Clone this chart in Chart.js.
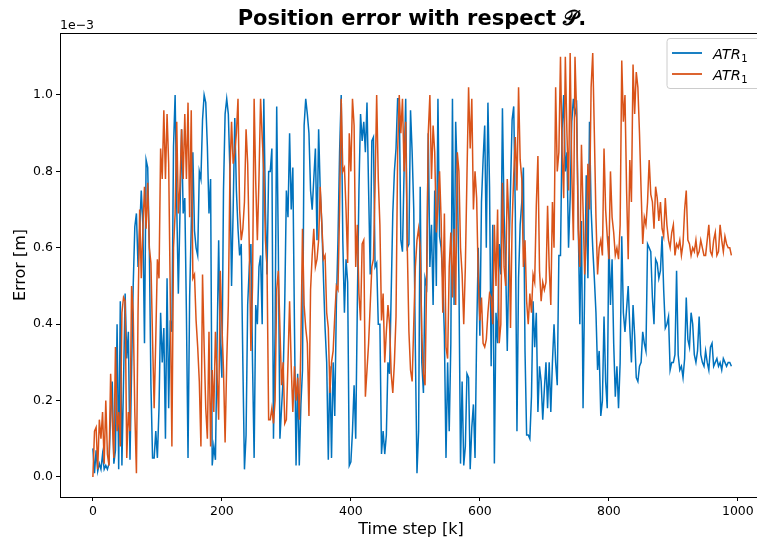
<!DOCTYPE html>
<html><head><meta charset="utf-8">
<script src="https://cdn.jsdelivr.net/npm/chart.js@4/dist/chart.umd.min.js"></script>
<style>
html,body{margin:0;padding:0;background:#fff;overflow:hidden;width:757px;height:541px}
#wrap{position:absolute;left:0;top:0;width:770px;height:541px}
</style>
</head><body><div id="wrap"><canvas id="c" width="770" height="541"></canvas></div>
<script>
// Time steps [k] (sampled every 2.5 steps)
const timeSteps = [
0,2.5,5,7.5,10,12.5,15,17.5,20,22.5, 25,27.5,30,32.5,35,37.5,40,42.5,45,47.5,
50,52.5,55,57.5,60,62.5,65,67.5,70,72.5, 75,77.5,80,82.5,85,87.5,90,92.5,95,97.5,
100,102.5,105,107.5,110,112.5,115,117.5,120,122.5, 125,127.5,130,132.5,135,137.5,140,142.5,145,147.5,
150,152.5,155,157.5,160,162.5,165,167.5,170,172.5, 175,177.5,180,182.5,185,187.5,190,192.5,195,197.5,
200,202.5,205,207.5,210,212.5,215,217.5,220,222.5, 225,227.5,230,232.5,235,237.5,240,242.5,245,247.5,
250,252.5,255,257.5,260,262.5,265,267.5,270,272.5, 275,277.5,280,282.5,285,287.5,290,292.5,295,297.5,
300,302.5,305,307.5,310,312.5,315,317.5,320,322.5, 325,327.5,330,332.5,335,337.5,340,342.5,345,347.5,
350,352.5,355,357.5,360,362.5,365,367.5,370,372.5, 375,377.5,380,382.5,385,387.5,390,392.5,395,397.5,
400,402.5,405,407.5,410,412.5,415,417.5,420,422.5, 425,427.5,430,432.5,435,437.5,440,442.5,445,447.5,
450,452.5,455,457.5,460,462.5,465,467.5,470,472.5, 475,477.5,480,482.5,485,487.5,490,492.5,495,497.5,
500,502.5,505,507.5,510,512.5,515,517.5,520,522.5, 525,527.5,530,532.5,535,537.5,540,542.5,545,547.5,
550,552.5,555,557.5,560,562.5,565,567.5,570,572.5, 575,577.5,580,582.5,585,587.5,590,592.5,595,597.5,
600,602.5,605,607.5,610,612.5,615,617.5,620,622.5, 625,627.5,630,632.5,635,637.5,640,642.5,645,647.5,
650,652.5,655,657.5,660,662.5,665,667.5,670,672.5, 675,677.5,680,682.5,685,687.5,690,692.5,695,697.5,
700,702.5,705,707.5,710,712.5,715,717.5,720,722.5, 725,727.5,730,732.5,735,737.5,740,742.5,745,747.5,
750,752.5,755,757.5,760,762.5,765,767.5,770,772.5, 775,777.5,780,782.5,785,787.5,790,792.5,795,797.5,
800,802.5,805,807.5,810,812.5,815,817.5,820,822.5, 825,827.5,830,832.5,835,837.5,840,842.5,845,847.5,
850,852.5,855,857.5,860,862.5,865,867.5,870,872.5, 875,877.5,880,882.5,885,887.5,890,892.5,895,897.5,
900,902.5,905,907.5,910,912.5,915,917.5,920,922.5, 925,927.5,930,932.5,935,937.5,940,942.5,945,947.5,
950,952.5,955,957.5,960,962.5,965,967.5,970,972.5, 975,977.5,980,982.5,985,987.5,990];

// Position error, units of 1e-3 m — first (blue) ATR_1 series
const errorBlue = [
0.075,0.01,0.07,0.015,0.035,0.02,0.06,0.02,0.03,0.02, 0.035,0.17,0.25,0.035,0.07,0.40,0.02,0.46,0.03,0.25,
0.48,0.31,0.38,0.045,0.28,0.50,0.655,0.69,0.55,0.645, 0.75,0.66,0.35,0.83,0.81,0.60,0.24,0.05,0.05,0.12,
0.05,0.18,0.43,0.30,0.39,0.10,0.52,0.18,0.41,0.38, 0.865,1.0,0.71,0.48,0.69,0.91,0.69,0.73,0.43,0.05,
0.47,0.655,0.85,0.645,0.60,0.58,0.80,0.78,0.935,1.0, 0.98,0.865,0.69,0.78,0.03,0.08,0.045,0.34,0.62,0.35,
0.26,0.75,0.95,0.99,0.95,0.80,0.50,0.70,0.94,0.75, 0.65,0.58,0.61,0.30,0.02,0.11,0.45,0.55,0.61,0.30,
0.05,0.45,0.40,0.55,0.58,0.40,0.99,0.70,0.53,0.80, 0.80,0.86,0.10,0.38,0.97,0.60,0.10,0.18,0.26,0.46,
0.75,0.68,0.90,0.70,0.81,0.40,0.03,0.27,0.03,0.19, 0.28,0.92,0.99,0.95,0.90,0.75,0.70,0.78,0.86,0.62,
0.91,0.75,0.66,0.52,0.39,0.30,0.045,0.29,0.05,0.30, 0.16,0.45,0.62,0.85,1.0,0.62,0.43,0.57,0.51,0.03,
0.04,0.12,0.24,0.10,0.45,0.75,0.95,0.88,0.93,0.85, 0.98,0.75,0.53,0.88,0.89,0.55,0.56,0.40,0.40,0.06,
0.12,0.06,0.11,0.30,0.27,0.48,0.69,0.80,0.86,0.99, 0.99,0.62,0.59,0.80,0.99,0.60,0.61,0.96,0.85,0.70,
0.33,0.01,0.12,0.76,0.30,0.22,0.52,0.50,0.90,0.55, 0.66,0.45,0.75,0.50,0.99,0.63,0.60,0.52,0.37,0.05,
0.30,0.12,0.35,0.99,0.45,0.93,0.78,0.52,0.035,0.25, 0.03,0.08,0.27,0.26,0.02,0.13,0.19,0.05,0.37,0.60,
0.37,0.72,0.83,0.92,0.60,0.98,0.76,0.29,0.66,0.035, 0.43,0.35,0.61,0.53,0.965,0.69,0.55,0.33,0.57,0.75,
0.935,0.97,0.69,0.12,0.52,0.66,0.72,0.81,0.33,0.11, 0.11,0.10,0.21,0.46,0.34,0.43,0.17,0.29,0.25,0.15,
0.23,0.30,0.18,0.30,0.17,0.30,0.40,0.30,0.24,0.58, 0.58,0.91,1.0,0.80,0.85,0.60,0.73,0.93,0.99,0.95,
0.97,0.67,0.40,0.67,0.18,0.50,0.79,0.52,0.93,0.70, 0.60,0.52,0.43,0.28,0.33,0.16,0.20,0.42,0.25,0.18,
0.63,0.45,0.57,0.35,0.21,0.29,0.18,0.30,0.63,0.43, 0.38,0.44,0.50,0.39,0.30,0.45,0.37,0.26,0.25,0.29,
0.30,0.38,0.35,0.33,0.61,0.60,0.59,0.47,0.40,0.57, 0.56,0.52,0.54,0.63,0.49,0.39,0.40,0.42,0.28,0.30,
0.30,0.32,0.54,0.32,0.28,0.29,0.26,0.31,0.47,0.36, 0.34,0.43,0.40,0.32,0.30,0.33,0.42,0.32,0.30,0.29,
0.33,0.30,0.28,0.34,0.35,0.29,0.30,0.31,0.29,0.30, 0.28,0.31,0.30,0.29,0.30,0.30,0.29];

// Position error, units of 1e-3 m — second (orange) ATR_1 series
const errorOrange = [
0.00,0.12,0.13,0.02,0.15,0.10,0.17,0.035,0.20,0.06, 0.03,0.27,0.15,0.05,0.34,0.12,0.17,0.08,0.43,0.47,
0.46,0.05,0.17,0.12,0.50,0.43,0.17,0.01,0.43,0.70, 0.52,0.65,0.76,0.65,0.77,0.60,0.56,0.36,0.18,0.36,
0.57,0.52,0.86,0.78,0.96,0.78,0.95,0.82,0.47,0.08, 0.60,0.69,0.93,0.69,0.76,0.91,0.78,0.95,0.78,0.98,
0.68,0.96,0.52,0.53,0.41,0.34,0.25,0.08,0.53,0.34, 0.18,0.10,0.38,0.08,0.28,0.17,0.38,0.27,0.15,0.54,
0.40,0.28,0.09,0.30,0.45,0.80,0.93,0.82,0.85,0.90, 0.99,0.70,0.62,0.65,0.72,0.91,0.82,0.60,0.33,0.50,
0.99,0.77,0.62,0.78,0.99,0.89,0.80,0.62,0.55,0.15, 0.15,0.18,0.14,0.20,0.49,0.54,0.39,0.24,0.30,0.14,
0.15,0.30,0.46,0.29,0.17,0.29,0.20,0.26,0.15,0.35, 0.65,0.45,0.39,0.35,0.16,0.49,0.58,0.65,0.55,0.57,
0.62,0.76,0.66,0.57,0.58,0.43,0.39,0.22,0.30,0.33, 0.42,0.50,0.49,0.70,0.99,0.80,0.81,0.70,0.56,0.90,
0.80,0.99,0.92,0.55,0.66,0.48,0.41,0.61,0.62,0.21, 0.28,0.35,0.45,0.55,0.57,0.76,1.0,0.78,0.66,0.41,
0.48,0.30,0.38,0.45,0.40,0.27,0.22,0.30,0.42,0.85, 1.0,0.90,0.99,0.80,0.93,0.60,0.38,0.28,0.25,0.40,
0.55,0.62,0.65,0.60,0.37,0.27,0.24,0.52,0.90,1.0, 0.78,0.92,0.85,0.64,0.71,0.80,0.67,0.43,0.69,0.34,
0.31,0.55,0.64,0.47,0.65,0.45,0.85,0.80,0.60,0.53, 0.40,0.55,0.79,1.02,0.86,0.99,0.70,0.80,0.73,0.52,
0.41,0.47,0.35,0.34,0.36,0.43,0.48,0.47,0.40,0.66, 0.50,0.70,0.35,0.40,0.77,0.55,0.50,0.78,0.67,0.39,
0.66,0.79,0.89,0.75,1.02,0.83,0.78,0.55,0.62,0.46, 0.40,0.48,0.43,0.53,0.51,0.71,0.84,0.54,0.46,0.51,
0.49,0.51,0.71,0.55,0.45,0.72,0.60,1.02,0.80,0.85, 1.10,0.85,0.73,1.10,0.90,0.75,1.11,0.80,0.62,1.10,
0.95,0.65,0.55,0.87,0.70,0.53,0.62,0.82,0.70,1.02, 1.11,0.90,0.68,0.53,0.60,0.62,0.58,0.86,0.70,0.63,
0.57,0.80,0.68,0.64,0.58,0.60,0.57,0.66,1.09,0.93, 1.00,0.75,0.57,0.83,0.72,1.08,0.95,1.06,1.02,0.90,
0.75,0.61,0.68,0.66,0.72,0.83,0.74,0.72,0.65,0.76, 0.73,0.67,0.72,0.65,0.63,0.73,0.66,0.62,0.60,0.64,
0.66,0.58,0.61,0.60,0.62,0.58,0.61,0.70,0.75,0.62, 0.61,0.58,0.60,0.59,0.62,0.58,0.59,0.62,0.60,0.58,
0.58,0.62,0.66,0.59,0.58,0.62,0.64,0.58,0.59,0.66, 0.62,0.59,0.63,0.61,0.60,0.60,0.58];

const xTicks = [0,200,400,600,800,1000];
const yTicks = [0.0,0.2,0.4,0.6,0.8,1.0];
const seriesNames = ['ATR', 'ATR'];
const seriesSubs = ['1', '1'];
const seriesColors = ['#0072BD', '#D95319'];
const titleText = 'Position error with respect \u{1D4AB}.';
const xTitle = 'Time step [k]';
const yTitle = 'Error [m]';
const offsetText = '1e\u22123';

const FONT = '"DejaVu Sans", sans-serif';

const extras = {
  id: 'extras',
  afterDraw(chart) {
    const ctx = chart.ctx, a = chart.chartArea;
    ctx.save();
    ctx.strokeStyle = '#000'; ctx.lineWidth = 1;
    ctx.strokeRect(a.left + 0.5, a.top + 0.5, a.right - a.left - 1, a.bottom - a.top);
    ctx.fillStyle = '#000';
    ctx.font = 'bold 21px ' + FONT;
    ctx.textAlign = 'center'; ctx.textBaseline = 'alphabetic';
    ctx.fillText(titleText, 412, 25);
    ctx.font = '12.5px ' + FONT;
    ctx.textAlign = 'left';
    ctx.fillText(offsetText, 60, 29);
    ctx.font = '16px ' + FONT;
    ctx.textAlign = 'center';
    ctx.fillText(xTitle, 411, 534);
    ctx.save();
    ctx.translate(21, 265); ctx.rotate(-Math.PI / 2);
    ctx.textBaseline = 'middle';
    ctx.fillText(yTitle, 0, 0);
    ctx.restore();
    // legend
    const lx = 667, ly = 38.5, lw = 100, lh = 50, r = 3;
    ctx.beginPath();
    ctx.moveTo(lx + r, ly); ctx.lineTo(lx + lw - r, ly); ctx.arcTo(lx + lw, ly, lx + lw, ly + r, r);
    ctx.lineTo(lx + lw, ly + lh - r); ctx.arcTo(lx + lw, ly + lh, lx + lw - r, ly + lh, r);
    ctx.lineTo(lx + r, ly + lh); ctx.arcTo(lx, ly + lh, lx, ly + lh - r, r);
    ctx.lineTo(lx, ly + r); ctx.arcTo(lx, ly, lx + r, ly, r); ctx.closePath();
    ctx.fillStyle = 'rgba(255,255,255,0.8)'; ctx.fill();
    ctx.strokeStyle = '#cccccc'; ctx.lineWidth = 1; ctx.stroke();
    [53, 74].forEach((yy, i) => {
      ctx.strokeStyle = seriesColors[i]; ctx.lineWidth = 1.8;
      ctx.beginPath(); ctx.moveTo(672, yy); ctx.lineTo(702, yy); ctx.stroke();
      ctx.fillStyle = '#000';
      ctx.textAlign = 'left'; ctx.textBaseline = 'alphabetic';
      ctx.font = 'italic 14.5px ' + FONT;
      ctx.fillText(seriesNames[i], 713, yy + 5.5);
      const w = ctx.measureText(seriesNames[i]).width;
      ctx.font = '10px ' + FONT;
      ctx.fillText(seriesSubs[i], 713 + w + 0.5, yy + 9);
    });
    ctx.restore();
  }
};

new Chart(document.getElementById('c'), {
  type: 'line',
  data: {
    datasets: [
      { label: 'ATR\u2081', data: timeSteps.map((x, i) => ({ x, y: errorBlue[i] })),
        borderColor: seriesColors[0], borderWidth: 1.5, pointRadius: 0, tension: 0, fill: false, order: 1 },
      { label: 'ATR\u2081', data: timeSteps.map((x, i) => ({ x, y: errorOrange[i] })),
        borderColor: seriesColors[1], borderWidth: 1.5, pointRadius: 0, tension: 0, fill: false, order: 0 }
    ]
  },
  options: {
    responsive: false, animation: false, devicePixelRatio: 1,
    layout: { padding: { top: 33, right: 7, left: 0, bottom: 0 } },
    plugins: { legend: { display: false }, tooltip: { enabled: false }, title: { display: false } },
    scales: {
      x: {
        type: 'linear', min: -51, max: 1039,
        afterBuildTicks: s => { s.ticks = xTicks.map(v => ({ value: v })); },
        afterFit: s => { s.height = 44; },
        grid: { display: true, drawOnChartArea: false, drawTicks: true, tickLength: 4, color: '#000', lineWidth: 1 },
        border: { display: true, color: '#000', width: 1 },
        ticks: { font: { family: FONT, size: 12.5 }, color: '#000', padding: 3, maxRotation: 0, autoSkip: false,
                 callback: v => String(v) }
      },
      y: {
        type: 'linear', min: -0.0524, max: 1.1623,
        afterBuildTicks: s => { s.ticks = yTicks.map(v => ({ value: v })); },
        afterFit: s => { s.width = 60; },
        grid: { display: true, drawOnChartArea: false, drawTicks: true, tickLength: 4, color: '#000', lineWidth: 1 },
        border: { display: true, color: '#000', width: 1 },
        ticks: { font: { family: FONT, size: 12.5 }, color: '#000', padding: 3, autoSkip: false,
                 callback: v => Number(v).toFixed(1) }
      }
    }
  },
  plugins: [extras]
});
</script>
</body></html>
